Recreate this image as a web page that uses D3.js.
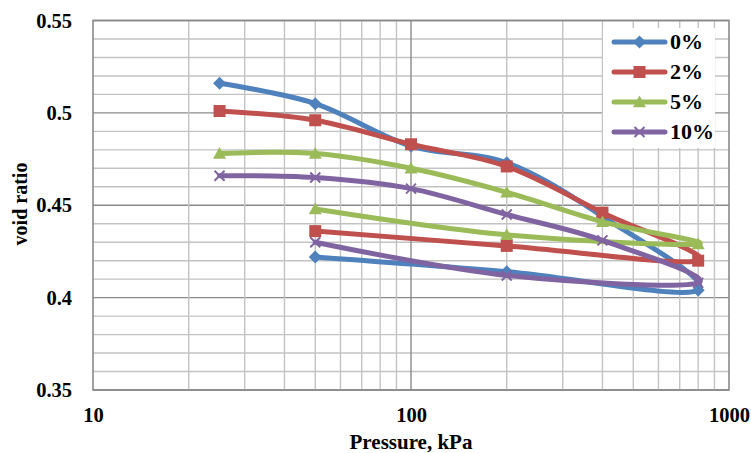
<!DOCTYPE html>
<html>
<head>
<meta charset="utf-8">
<script src="https://cdn.jsdelivr.net/npm/d3@7/dist/d3.min.js"></script>
<style>
  html, body { margin: 0; padding: 0; background: #ffffff; }
  svg { display: block; }
  text { font-family: "Liberation Serif", "Times New Roman", serif; font-weight: bold; fill: #000; }
</style>
</head>
<body>
<svg id="chart" width="751" height="453"></svg>
<script>
// Consolidation test: loading 25 -> 800 kPa, then unloading 800 -> 50 kPa
const pressures = [25, 50, 100, 200, 400, 800, 200, 50];
const void0  = [0.516, 0.505, 0.482, 0.473, 0.444, 0.404, 0.414, 0.422];
const void2  = [0.501, 0.496, 0.483, 0.471, 0.446, 0.420, 0.428, 0.436];
const void5  = [0.478, 0.478, 0.470, 0.457, 0.441, 0.429, 0.434, 0.448];
const void10 = [0.466, 0.465, 0.459, 0.445, 0.431, 0.408, 0.412, 0.430];
const seriesNames = ["0%", "2%", "5%", "10%"];
const seriesValues = [void0, void2, void5, void10];
const colors = ["#4F81BD", "#C0504D", "#9BBB59", "#8064A2"];
const markers = ["diamond", "square", "triangle", "cross"];

const xTicks = [10, 100, 1000];
const yTicks = [0.35, 0.4, 0.45, 0.5, 0.55];

const svg = d3.select("#chart");
const plotL = 93, plotR = 729, plotT = 20.5, plotB = 390;

const x = d3.scaleLog().domain([10, 1000]).range([plotL, plotR]);
const y = d3.scaleLinear().domain([0.35, 0.55]).range([plotB, plotT]);

// gridlines
const grid = svg.append("g");
const minorY = d3.range(0.35, 0.5501, 0.01).map(v => +v.toFixed(2));
grid.selectAll("line.hy").data(minorY).join("line")
  .attr("x1", plotL).attr("x2", plotR)
  .attr("y1", d => y(d)).attr("y2", d => y(d))
  .attr("stroke", d => (Math.round(d * 100) % 5 === 0) ? "#8a8a8a" : "#c3c3c3")
  .attr("stroke-width", 1.4);
const minorX = [];
[10, 100].forEach(dec => { for (let k = 2; k <= 9; k++) minorX.push(dec * k); });
grid.selectAll("line.vx").data(minorX).join("line")
  .attr("y1", plotT).attr("y2", plotB)
  .attr("x1", d => x(d)).attr("x2", d => x(d))
  .attr("stroke", "#c3c3c3").attr("stroke-width", 1.4);
grid.append("line")
  .attr("x1", x(100)).attr("x2", x(100)).attr("y1", plotT).attr("y2", plotB)
  .attr("stroke", "#8a8a8a").attr("stroke-width", 1.4);

// plot frame
svg.append("rect")
  .attr("x", plotL).attr("y", plotT).attr("width", plotR - plotL).attr("height", plotB - plotT)
  .attr("fill", "none").attr("stroke", "#8a8a8a").attr("stroke-width", 1.6);

// axes labels
const yAxis = d3.axisLeft(y).tickValues(yTicks).tickSize(0).tickPadding(21)
  .tickFormat(d => d3.format("")(+d.toFixed(2)));
svg.append("g").attr("transform", `translate(${plotL},0)`).call(yAxis)
  .attr("font-family", null).attr("font-size", null)
  .call(g => g.select(".domain").remove())
  .selectAll("text").attr("font-size", 20.5);

const xAxis = d3.axisBottom(x).tickValues(xTicks).tickSize(0).tickPadding(17)
  .tickFormat(d3.format("d"));
svg.append("g").attr("transform", `translate(0,${plotB})`).call(xAxis)
  .attr("font-family", null).attr("font-size", null)
  .call(g => g.select(".domain").remove())
  .selectAll("text").attr("font-size", 20.5);

svg.append("text").attr("x", x(100)).attr("y", 449).attr("text-anchor", "middle")
  .attr("font-size", 21).text("Pressure, kPa");
svg.append("text").attr("transform", "translate(27,204) rotate(-90)").attr("text-anchor", "middle")
  .attr("font-size", 20).text("void ratio");

// marker shapes
function drawMarker(g, type, color, cx, cy, s) {
  if (type === "diamond") {
    g.append("path").attr("d", `M${cx},${cy - s}L${cx + s},${cy}L${cx},${cy + s}L${cx - s},${cy}Z`).attr("fill", color);
  } else if (type === "square") {
    g.append("rect").attr("x", cx - s).attr("y", cy - s).attr("width", 2 * s).attr("height", 2 * s).attr("fill", color);
  } else if (type === "triangle") {
    g.append("path").attr("d", `M${cx},${cy - s}L${cx + s},${cy + s * 0.8}L${cx - s},${cy + s * 0.8}Z`).attr("fill", color);
  } else {
    g.append("path").attr("d", `M${cx - s},${cy - s}L${cx + s},${cy + s}M${cx - s},${cy + s}L${cx + s},${cy - s}`)
      .attr("stroke", color).attr("stroke-width", 2).attr("fill", "none");
  }
}
const markerSize = { diamond: 6.5, square: 6, triangle: 6.5, cross: 5 };

const line = d3.line().x(d => x(d.p)).y(d => y(d.v)).curve(d3.curveCatmullRom.alpha(0));

seriesValues.forEach((vals, i) => {
  const pts = pressures.map((p, j) => ({ p, v: vals[j] }));
  const g = svg.append("g");
  g.append("path").datum(pts).attr("d", line)
    .attr("fill", "none").attr("stroke", colors[i]).attr("stroke-width", 5)
    .attr("stroke-linejoin", "round").attr("stroke-linecap", "round");
  pts.forEach(d => drawMarker(g, markers[i], colors[i], x(d.p), y(d.v), markerSize[markers[i]]));
});

// legend
const lg = svg.append("g");
lg.append("rect").attr("x", 603).attr("y", 28).attr("width", 112).attr("height", 120).attr("fill", "#ffffff");
seriesNames.forEach((name, i) => {
  const ly = 42 + i * 30;
  lg.append("line").attr("x1", 614).attr("x2", 665).attr("y1", ly).attr("y2", ly)
    .attr("stroke", colors[i]).attr("stroke-width", 5).attr("stroke-linecap", "round");
  drawMarker(lg, markers[i], colors[i], 639.5, ly, markerSize[markers[i]]);
  lg.append("text").attr("x", 670).attr("y", ly + 7).attr("font-size", 22).text(name);
});
</script>
</body>
</html>
